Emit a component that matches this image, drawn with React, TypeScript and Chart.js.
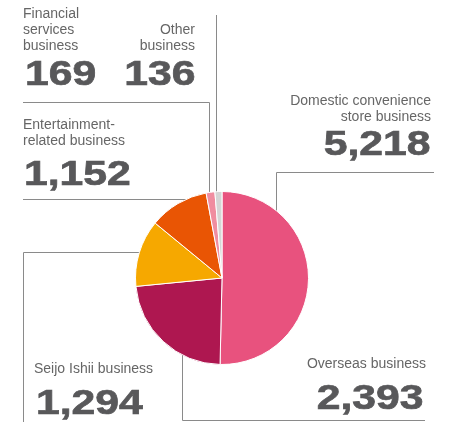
import React, { useEffect, useRef } from "react";
import { Chart, registerables } from "chart.js";

Chart.register(...registerables);

const categories = [
  "Domestic convenience store business",
  "Overseas business",
  "Seijo Ishii business",
  "Entertainment-related business",
  "Financial services business",
  "Other business",
];
const values = [5218, 2393, 1294, 1152, 169, 136];
const labelLines = [
  ["Domestic convenience", "store business"],
  ["Overseas business"],
  ["Seijo Ishii business"],
  ["Entertainment-", "related business"],
  ["Financial", "services", "business"],
  ["Other", "business"],
];
const colors = ["#E8527E", "#AE1750", "#F6A800", "#E95504", "#F08DA0", "#D5D5D5"];

const W = 452;
const H = 422;
const FONT = "'Liberation Sans', Arial, Helvetica, sans-serif";
const LABEL_SIZE = 14;
const LABEL_LH = 16;
const LABEL_BASE = 12.85;
const NUM_SIZE = 35;
const NUM_BASE = 29.6;

// text placement per category: align, x (box edge), label first baseline, number baseline
const placements = [
  { align: "right", x: 431, labelBase: 105, numBase: 155 },
  { align: "right", x: 426, labelBase: 368.3, numBase: 408.3, numX: 424 },
  { align: "left", x: 34, labelBase: 373.3, numBase: 413.3, numX: 36 },
  { align: "left", x: 23, labelBase: 129.3, numBase: 185, numX: 24 },
  { align: "left", x: 23, labelBase: 18.3, numBase: 85, numX: 25 },
  { align: "right", x: 195, labelBase: 34.3, numBase: 85 },
];

// leader line polylines (layout only)
const leaders: number[][][] = [
  [[434, 172.5], [276.5, 172.5], [276.5, 278]],
  [[425, 420.5], [182.5, 420.5], [182.5, 278]],
  [[23.5, 422], [23.5, 252.5], [222, 252.5]],
  [[23, 199.5], [222, 199.5]],
  [[23, 102.5], [209.5, 102.5], [209.5, 278]],
  [[216.5, 15], [216.5, 278]],
];

const leaderPlugin = {
  id: "leaders",
  beforeDatasetsDraw(chart: any) {
    const ctx = chart.ctx;
    ctx.save();
    ctx.strokeStyle = "#8a8a8a";
    ctx.lineWidth = 1;
    for (const pts of leaders) {
      ctx.beginPath();
      pts.forEach((p, i) => (i === 0 ? ctx.moveTo(p[0], p[1]) : ctx.lineTo(p[0], p[1])));
      ctx.stroke();
    }
    ctx.restore();
  },
};

export default function App() {
  const ref = useRef<HTMLCanvasElement | null>(null);
  useEffect(() => {
    if (!ref.current) return;
    const chart = new Chart(ref.current, {
      type: "pie",
      data: {
        labels: categories,
        datasets: [
          {
            data: values,
            backgroundColor: colors,
            borderColor: "#ffffff",
            borderWidth: 1,
          },
        ],
      },
      options: {
        animation: false,
        responsive: false,
        devicePixelRatio: 1,
        layout: { padding: { left: 135, top: 191, right: 143, bottom: 57 } },
        plugins: { legend: { display: false }, tooltip: { enabled: false } },
      },
      plugins: [leaderPlugin],
    });
    return () => chart.destroy();
  }, []);

  return (
    <div
      style={{
        position: "absolute",
        left: 0,
        top: 0,
        width: W,
        height: H,
        background: "#fff",
        overflow: "hidden",
        fontFamily: FONT,
      }}
    >
      <canvas ref={ref} width={W} height={H} style={{ position: "absolute", left: 0, top: 0 }} />
      {categories.map((c, i) => {
        const p: any = placements[i];
        const side: any = p.align === "right" ? { right: W - p.x } : { left: p.x };
        const nx = p.numX ?? p.x;
        const nside: any = p.align === "right" ? { right: W - nx } : { left: nx };
        return (
          <React.Fragment key={c}>
            <div
              style={{
                position: "absolute",
                top: p.labelBase - LABEL_BASE,
                ...side,
                fontSize: LABEL_SIZE,
                lineHeight: LABEL_LH + "px",
                color: "#666666",
                textAlign: p.align,
                whiteSpace: "nowrap",
              }}
            >
              {labelLines[i].map((l, j) => (
                <div key={j}>{l}</div>
              ))}
            </div>
            <div
              style={{
                position: "absolute",
                top: p.numBase - NUM_BASE,
                ...nside,
                fontSize: NUM_SIZE,
                lineHeight: NUM_SIZE + "px",
                fontWeight: 700,
                color: "#58585a",
                WebkitTextStroke: "0.7px #58585a",
                whiteSpace: "nowrap",
                transform: "scaleX(1.22)",
                transformOrigin: p.align === "right" ? "right center" : "left center",
              }}
            >
              {values[i].toLocaleString("en-US")}
            </div>
          </React.Fragment>
        );
      })}
    </div>
  );
}
